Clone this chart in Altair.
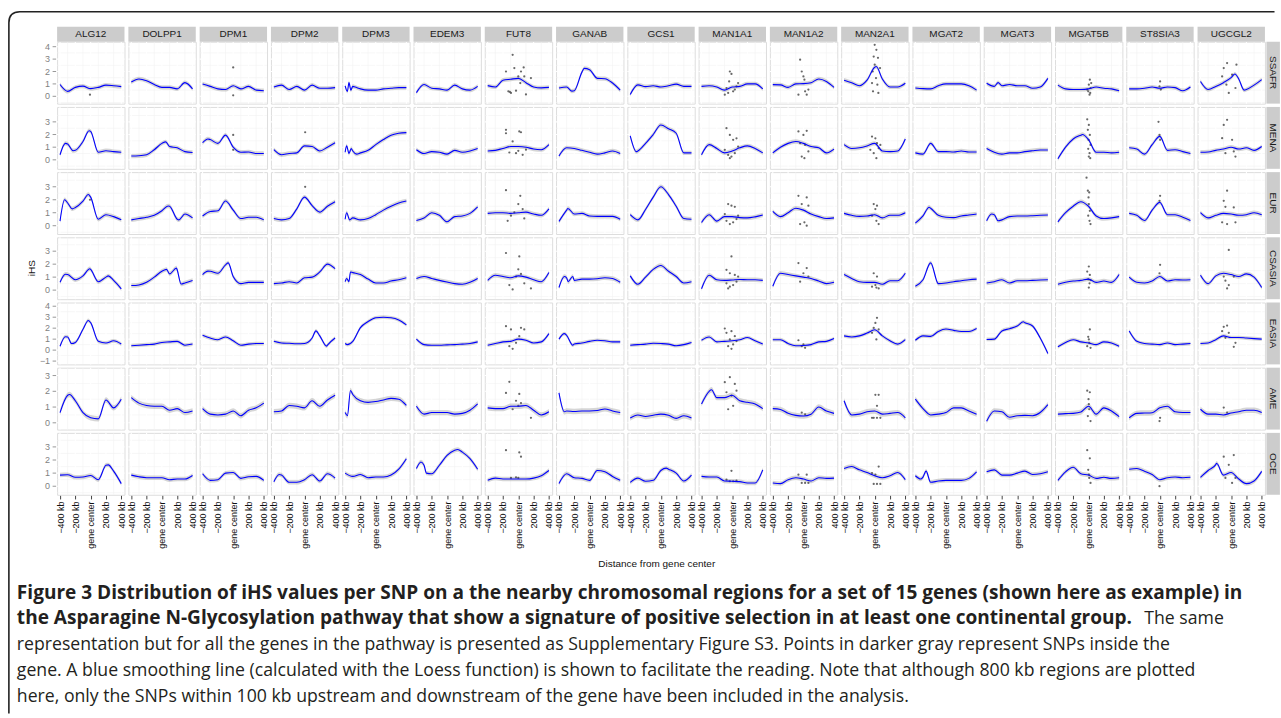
import altair as alt
import pandas as pd

GENES = ["ALG12", "DOLPP1", "DPM1", "DPM2", "DPM3", "EDEM3", "FUT8", "GANAB", "GCS1",
         "MAN1A1", "MAN1A2", "MAN2A1", "MGAT2", "MGAT3", "MGAT5B", "ST8SIA3", "UGCGL2"]
GROUPS = ["SSAFR", "MENA", "EUR", "CSASIA", "EASIA", "AME", "OCE"]
KB = [-400, -300, -200, -100, 0, 100, 200, 300, 400]

# Loess curves (iHS at each KB position)
SSAFR = {
    "ALG12": [0.95, 0.4, 0.72, 0.82, 0.62, 0.72, 0.9, 0.85, 0.78],
    "DOLPP1": [1.15, 1.4, 1.25, 0.95, 0.72, 0.72, 0.6, 1.1, 0.6],
    "DPM1": [1.0, 0.8, 0.6, 0.55, 0.85, 0.6, 0.8, 0.5, 0.45],
    "DPM2": [0.75, 0.9, 0.55, 0.8, 0.5, 0.9, 0.65, 0.65, 0.7],
    "DPM3": [0.85, 0.8, 0.6, 0.5, 0.5, 0.6, 0.65, 0.7, 0.7],
    "EDEM3": [0.3, 0.95, 0.65, 0.6, 0.5, 0.9, 0.6, 0.5, 0.8],
    "FUT8": [0.86, 0.75, 1.3, 1.38, 1.45, 1.1, 0.75, 0.68, 0.72],
    "GANAB": [0.67, 0.75, 0.45, 1.95, 2.15, 1.45, 1.42, 1.07, 0.5],
    "GCS1": [0.15, 0.92, 0.78, 0.85, 0.75, 0.85, 0.98, 0.8, 0.8],
    "MAN1A1": [0.8, 0.85, 0.75, 0.5, 0.75, 0.8, 1.0, 1.0, 0.6],
    "MAN1A2": [0.94, 0.92, 0.72, 1.0, 1.02, 1.1, 1.4, 1.2, 0.72],
    "MAN2A1": [1.3, 1.1, 0.85, 1.3, 2.35, 1.4, 0.75, 0.75, 1.05],
    "MGAT2": [0.67, 0.62, 0.6, 0.85, 1.0, 1.0, 1.0, 0.85, 0.5],
    "MGAT3": [1.05, 0.8, 0.85, 0.95, 0.85, 0.85, 0.65, 0.75, 1.45],
    "MGAT5B": [0.9, 0.6, 0.55, 0.55, 0.6, 0.75, 0.65, 0.6, 0.45],
    "ST8SIA3": [0.6, 0.6, 0.65, 0.75, 0.65, 0.75, 0.7, 0.45, 0.75],
    "UGCGL2": [1.2, 0.55, 0.8, 1.1, 1.5, 1.4, 0.55, 0.9, 1.35],
}
MENA = {
    "ALG12": [0.4, 1.25, 0.75, 1.45, 2.25, 0.6, 0.72, 0.65, 0.6],
    "DOLPP1": [0.3, 0.32, 0.4, 0.8, 1.3, 1.05, 0.95, 0.65, 0.58],
    "DPM1": [1.35, 1.6, 1.3, 1.95, 1.0, 0.6, 0.62, 0.5, 0.5],
    "DPM2": [0.8, 0.4, 0.5, 0.55, 1.1, 1.05, 0.7, 1.0, 1.35],
    "DPM3": [0.6, 0.7, 0.55, 0.75, 1.2, 1.6, 1.95, 2.1, 2.15],
    "EDEM3": [0.8, 0.5, 0.65, 0.6, 0.45, 0.75, 0.6, 0.7, 0.9],
    "FUT8": [0.7, 0.75, 0.9, 1.05, 1.05, 1.0, 0.85, 0.8, 1.2],
    "GANAB": [0.3, 0.95, 0.9, 0.75, 0.6, 0.45, 0.55, 0.7, 0.5],
    "GCS1": [1.9, 0.7, 1.3, 2.0, 2.75, 2.45, 2.1, 0.55, 0.55],
    "MAN1A1": [0.4, 1.2, 0.9, 0.55, 0.7, 0.95, 1.1, 0.9, 0.55],
    "MAN1A2": [0.55, 1.0, 1.3, 1.45, 1.3, 1.05, 0.95, 0.55, 0.85],
    "MAN2A1": [1.2, 0.9, 0.95, 1.1, 1.3, 0.7, 0.65, 0.7, 1.65],
    "MGAT2": [0.55, 0.45, 1.3, 0.65, 0.65, 0.62, 0.7, 0.62, 0.62],
    "MGAT3": [0.9, 0.6, 0.45, 0.55, 0.55, 0.65, 0.72, 0.78, 0.78],
    "MGAT5B": [0.08, 1.0, 1.65, 1.95, 1.6, 0.6, 0.6, 0.55, 0.6],
    "ST8SIA3": [0.95, 0.85, 0.45, 1.2, 1.85, 0.75, 0.8, 0.65, 0.5],
    "UGCGL2": [0.6, 0.62, 0.75, 0.85, 1.0, 0.85, 0.95, 0.75, 1.05],
}
EUR = {
    "ALG12": [0.35, 1.75, 1.4, 1.9, 2.2, 0.5, 0.85, 0.7, 0.45],
    "DOLPP1": [0.45, 0.55, 0.65, 0.8, 1.15, 1.5, 0.5, 0.9, 0.6],
    "DPM1": [0.75, 1.1, 1.15, 1.9, 1.2, 0.55, 0.65, 0.65, 0.45],
    "DPM2": [0.55, 0.45, 0.55, 1.3, 2.2, 1.55, 1.05, 1.5, 1.85],
    "DPM3": [0.5, 0.6, 0.45, 0.55, 0.85, 1.2, 1.5, 1.75, 1.9],
    "EDEM3": [0.4, 0.6, 1.0, 0.8, 0.3, 0.7, 0.75, 0.95, 1.45],
    "FUT8": [0.95, 1.0, 1.0, 0.95, 1.0, 1.05, 0.9, 0.8, 1.3],
    "GANAB": [0.33, 1.2, 0.9, 0.95, 0.75, 0.72, 0.72, 0.72, 0.5],
    "GCS1": [0.85, 0.45, 1.25, 2.2, 3.0, 2.4, 1.5, 0.55, 0.5],
    "MAN1A1": [0.25, 0.85, 0.35, 0.7, 0.7, 0.62, 0.6, 0.68, 0.82],
    "MAN1A2": [1.1, 0.7, 1.0, 1.35, 1.2, 0.9, 0.7, 0.55, 0.6],
    "MAN2A1": [0.95, 0.8, 0.72, 0.75, 0.85, 0.6, 0.8, 0.8, 1.0],
    "MGAT2": [0.2, 0.75, 1.35, 0.8, 0.65, 0.62, 0.75, 0.82, 0.9],
    "MGAT3": [0.38, 0.85, 0.45, 0.7, 0.75, 0.75, 0.77, 0.8, 0.82],
    "MGAT5B": [0.3, 1.0, 1.5, 1.85, 1.5, 0.75, 0.55, 0.6, 0.7],
    "ST8SIA3": [0.95, 0.8, 0.4, 1.2, 1.8, 0.85, 0.85, 0.65, 0.4],
    "UGCGL2": [1.0, 0.6, 0.8, 0.95, 0.9, 0.8, 0.85, 1.0, 0.85],
}
CSASIA = {
    "ALG12": [0.6, 1.2, 0.8, 1.1, 1.6, 0.65, 1.0, 0.75, 0.1],
    "DOLPP1": [0.35, 0.4, 0.6, 1.0, 1.45, 1.25, 1.55, 0.55, 0.75],
    "DPM1": [1.2, 1.45, 1.3, 1.95, 1.05, 0.5, 0.6, 0.6, 0.6],
    "DPM2": [0.5, 0.55, 0.65, 0.55, 0.95, 1.0, 1.4, 2.0, 1.65],
    "DPM3": [0.65, 1.35, 1.2, 0.85, 0.55, 0.55, 0.7, 0.8, 0.95],
    "EDEM3": [0.9, 1.05, 0.9, 0.75, 0.62, 0.5, 0.45, 0.6, 0.9],
    "FUT8": [0.75, 1.15, 1.05, 0.95, 1.1, 1.0, 0.8, 0.65, 1.35],
    "GANAB": [0.2, 0.95, 0.75, 0.85, 0.85, 0.88, 0.95, 0.9, 0.6],
    "GCS1": [1.1, 0.45, 1.0, 1.6, 1.9, 1.45, 1.05, 0.55, 0.65],
    "MAN1A1": [0.1, 1.15, 0.8, 0.75, 0.78, 0.82, 0.8, 0.8, 0.75],
    "MAN1A2": [0.3, 1.3, 1.2, 1.1, 1.0, 0.9, 0.7, 0.5, 0.6],
    "MAN2A1": [1.2, 0.9, 0.65, 0.6, 0.6, 0.45, 0.72, 0.72, 1.3],
    "MGAT2": [0.3, 0.8, 2.1, 0.5, 0.55, 0.65, 0.72, 0.8, 0.85],
    "MGAT3": [0.55, 0.65, 0.8, 0.55, 0.72, 0.72, 0.75, 0.78, 0.8],
    "MGAT5B": [0.45, 0.6, 0.7, 0.75, 0.85, 0.6, 0.7, 0.6, 1.2],
    "ST8SIA3": [1.0, 0.6, 0.55, 0.7, 1.05, 0.7, 0.8, 0.78, 0.8],
    "UGCGL2": [1.15, 0.5, 1.1, 1.3, 1.2, 1.05, 1.25, 1.0, 0.2],
}
EASIA = {
    "ALG12": [0.35, 1.2, 0.7, 1.9, 2.5, 0.8, 0.65, 0.85, 0.55],
    "DOLPP1": [0.4, 0.45, 0.5, 0.55, 0.7, 0.75, 0.8, 0.45, 0.55],
    "DPM1": [1.35, 1.1, 0.95, 1.2, 0.85, 0.45, 0.55, 0.6, 0.6],
    "DPM2": [0.8, 0.65, 0.62, 0.58, 0.6, 1.1, 1.3, 0.45, 1.1],
    "DPM3": [0.6, 0.8, 2.05, 2.6, 2.95, 3.0, 2.95, 2.75, 2.3],
    "EDEM3": [1.0, 0.5, 0.45, 0.45, 0.48, 0.5, 0.55, 0.6, 0.75],
    "FUT8": [0.45, 0.6, 0.75, 0.8, 1.0, 0.9, 0.65, 0.75, 1.5],
    "GANAB": [1.0, 1.35, 0.55, 0.65, 0.8, 0.9, 0.85, 0.75, 0.75],
    "GCS1": [0.45, 0.5, 0.55, 0.62, 0.6, 0.55, 0.4, 0.5, 0.7],
    "MAN1A1": [0.9, 1.2, 0.75, 0.8, 0.85, 0.95, 1.15, 0.85, 0.55],
    "MAN1A2": [0.95, 0.95, 0.6, 0.4, 0.42, 0.5, 0.75, 0.8, 1.05],
    "MAN2A1": [1.3, 1.2, 1.3, 1.55, 1.85, 1.3, 0.85, 0.55, 0.95],
    "MGAT2": [0.9, 1.3, 1.25, 1.7, 1.92, 1.8, 1.7, 1.7, 1.97],
    "MGAT3": [0.97, 1.0, 1.75, 1.95, 2.2, 2.5, 2.2, 1.1, -0.3],
    "MGAT5B": [0.3, 0.7, 0.95, 0.75, 0.65, 0.5, 0.75, 0.65, 0.36],
    "ST8SIA3": [1.75, 0.8, 0.6, 0.55, 0.5, 0.65, 0.5, 0.55, 0.6],
    "UGCGL2": [0.6, 0.65, 0.95, 1.3, 1.15, 1.15, 1.1, 1.05, 1.0],
}
AME = {
    "ALG12": [0.65, 1.75, 1.4, 0.65, 0.32, 0.25, 1.45, 0.95, 1.5],
    "DOLPP1": [1.6, 1.25, 1.1, 1.05, 1.05, 0.8, 0.9, 0.65, 0.75],
    "DPM1": [0.9, 0.55, 0.5, 0.55, 0.75, 0.45, 0.8, 0.95, 1.25],
    "DPM2": [0.7, 0.75, 1.1, 1.05, 0.95, 1.4, 1.05, 1.45, 1.75],
    "DPM3": [0.65, 1.8, 1.4, 1.3, 1.35, 1.45, 1.55, 1.5, 1.1],
    "EDEM3": [1.05, 0.55, 0.65, 0.65, 0.65, 0.55, 0.6, 0.8, 1.2],
    "FUT8": [0.95, 0.9, 0.9, 1.05, 1.05, 1.1, 0.8, 0.5, 0.7],
    "GANAB": [1.9, 0.75, 0.72, 0.75, 0.75, 0.78, 0.88, 0.75, 0.65],
    "GCS1": [0.3, 0.5, 0.4, 0.48, 0.55, 0.48, 0.28, 0.45, 0.3],
    "MAN1A1": [1.2, 2.0, 1.6, 1.6, 1.75, 1.4, 1.3, 1.2, 0.9],
    "MAN1A2": [0.9, 0.85, 0.6, 0.47, 0.43, 0.55, 1.0, 0.75, 0.6],
    "MAN2A1": [1.4, 0.5, 0.55, 0.7, 0.75, 0.55, 0.6, 0.65, 0.32],
    "MGAT2": [1.5, 0.9, 0.5, 0.55, 0.65, 0.95, 0.95, 0.75, 0.55],
    "MGAT3": [0.1, 0.75, 0.7, 0.35, 0.45, 0.47, 0.45, 0.65, 1.15],
    "MGAT5B": [0.55, 0.58, 0.6, 0.68, 1.05, 0.55, 0.95, 0.75, 0.39],
    "ST8SIA3": [0.32, 0.6, 0.62, 0.64, 0.95, 1.05, 0.7, 0.65, 0.65],
    "UGCGL2": [0.86, 0.55, 0.55, 0.5, 0.62, 0.7, 0.8, 0.8, 0.65],
}
OCE = {
    "ALG12": [0.85, 0.88, 0.68, 0.7, 0.82, 0.5, 1.6, 1.15, 0.2],
    "DOLPP1": [0.85, 0.72, 0.65, 0.65, 0.65, 0.5, 0.55, 0.55, 0.82],
    "DPM1": [0.95, 0.45, 0.5, 1.0, 1.05, 0.6, 0.72, 0.75, 0.45],
    "DPM2": [0.35, 0.85, 0.3, 0.3, 0.5, 0.88, 0.4, 0.95, 0.62],
    "DPM3": [1.0, 0.75, 0.9, 0.65, 0.7, 0.7, 0.85, 1.3, 2.1],
    "EDEM3": [1.35, 1.6, 0.95, 1.6, 2.35, 2.75, 2.6, 2.1, 1.3],
    "FUT8": [0.45, 0.62, 0.55, 0.55, 0.55, 0.55, 0.62, 0.8, 1.2],
    "GANAB": [0.2, 0.95, 0.65, 0.6, 0.45, 1.2, 1.1, 0.75, 0.45],
    "GCS1": [0.3, 0.62, 0.38, 0.45, 1.2, 1.3, 1.0, 0.4, 0.85],
    "MAN1A1": [0.75, 0.7, 0.7, 0.4, 0.38, 0.35, 0.25, 0.25, 1.25],
    "MAN1A2": [0.25, 0.2, 0.5, 0.65, 0.55, 0.4, 0.65, 0.6, 0.62],
    "MAN2A1": [1.35, 1.5, 1.25, 1.05, 0.8, 0.65, 0.8, 1.05, 0.5],
    "MGAT2": [0.8, 0.7, 0.3, 0.4, 0.45, 0.45, 0.45, 0.6, 1.1],
    "MGAT3": [1.1, 1.25, 0.85, 0.85, 1.0, 1.15, 0.9, 0.95, 1.1],
    "MGAT5B": [0.45, 1.1, 1.45, 0.95, 0.85, 0.6, 0.68, 0.6, 0.65],
    "ST8SIA3": [1.3, 1.35, 1.15, 0.9, 0.5, 0.65, 0.7, 0.65, 0.68],
    "UGCGL2": [0.68, 1.2, 1.65, 0.85, 1.05, 0.55, 0.2, 0.4, 1.13],
}
LINES = {"SSAFR": SSAFR, "MENA": MENA, "EUR": EUR, "CSASIA": CSASIA,
         "EASIA": EASIA, "AME": AME, "OCE": OCE}

# extra curve knots (kb, iHS) where a panel has sharper features
EXTRA = {
    ("SSAFR", "DPM3"): [(-370, 0.4), (-350, 1.1), (-325, 0.5), (-270, 0.75)],
    ("SSAFR", "GANAB"): [(-230, 0.42), (-70, 2.25)],
    ("SSAFR", "MGAT3"): [(-250, 1.1)],
    ("SSAFR", "UGCGL2"): [(50, 1.8), (170, 0.5)],
    ("SSAFR", "MAN2A1"): [(20, 2.4)],
    ("MENA", "DPM3"): [(-380, 1.1), (-350, 0.5), (-320, 0.9), (-250, 0.45)],
    ("MENA", "DPM1"): [(-330, 1.65)],
    ("MENA", "GCS1"): [(-320, 0.65)],
    ("MENA", "ALG12"): [(-330, 1.3), (-230, 0.72), (-20, 2.3)],
    ("MENA", "DOLPP1"): [(50, 1.42)],
    ("MENA", "MGAT5B"): [(-80, 2.0)],
    ("EUR", "ALG12"): [(-340, 2.0), (-240, 1.3), (-30, 2.4)],
    ("EUR", "DOLPP1"): [(80, 1.52), (220, 0.45)],
    ("EUR", "DPM3"): [(-380, 1.0), (-340, 0.45)],
    ("EUR", "GANAB"): [(-283, 1.33)],
    ("EUR", "MGAT2"): [(-220, 1.42)],
    ("EUR", "MGAT3"): [(-335, 0.9), (-250, 0.38)],
    ("CSASIA", "DPM3"): [(-380, 0.9), (-350, 0.65), (-330, 1.4)],
    ("CSASIA", "DOLPP1"): [(60, 1.6), (190, 1.7), (250, 0.47)],
    ("CSASIA", "GANAB"): [(-330, 1.05), (-280, 0.65), (-220, 1.05)],
    ("CSASIA", "DPM1"): [(-330, 1.46), (-65, 2.1)],
    ("CSASIA", "ALG12"): [(-330, 1.22), (-10, 1.65), (230, 1.1)],
    ("EASIA", "ALG12"): [(-330, 1.22), (-250, 0.6), (-30, 2.7)],
    ("EASIA", "DPM2"): [(150, 1.75), (290, 0.36)],
    ("EASIA", "DPM3"): [(-370, 0.5)],
    ("EASIA", "GANAB"): [(-330, 1.5), (-220, 0.45)],
    ("EASIA", "MGAT3"): [(80, 2.58)],
    ("AME", "ALG12"): [(-275, 1.8)],
    ("AME", "DPM3"): [(-370, 0.45), (-330, 2.05)],
    ("AME", "GANAB"): [(-330, 0.7)],
    ("AME", "MAN1A1"): [(-270, 2.1)],
    ("OCE", "EDEM3"): [(-340, 1.85), (-270, 1.0), (140, 2.8)],
    ("OCE", "MGAT2"): [(-330, 0.55), (-260, 1.15)],
    ("OCE", "UGCGL2"): [(-190, 1.75)],
    ("OCE", "DPM2"): [(-330, 0.9)],
    ("OCE", "ALG12"): [(230, 1.63)],
    ("OCE", "GCS1"): [(70, 1.38)],
}

# darker SNPs (inside the gene): (kb, iHS)
DARK = {
    ("SSAFR", "FUT8"): [(-161, 2.0), (-74, 3.35), (-52, 2.28), (-130, 0.4), (-96, 0.27), (-30, 0.45), (0, 1.6),
                        (35, 2.0), (70, 2.33), (78, 1.6), (100, 0.15), (165, 1.47), (26, 1.07), (-110, 0.35)],
    ("MENA", "FUT8"): [(-161, 2.37), (-161, 2.1), (13, 2.24), (35, 2.18), (-117, 0.58), (-30, 0.53), (0, 0.71),
                       (57, 0.4), (-74, 1.45), (100, 0.8)],
    ("EUR", "FUT8"): [(-161, 2.74), (26, 2.3), (0, 1.67), (57, 1.28), (-96, 0.77), (78, 0.56), (-52, 1.03), (-139, 0.38)],
    ("CSASIA", "FUT8"): [(-161, 2.86), (13, 2.6), (0, 1.6), (35, 1.25), (-117, 0.39), (-74, 0.05), (78, 0.52),
                         (165, 0.13), (-30, 1.04)],
    ("EASIA", "FUT8"): [(-161, 2.18), (-96, 1.88), (35, 2.03), (78, 1.88), (-117, 0.36), (-74, 0.12), (13, 1.27), (-30, 0.67)],
    ("AME", "FUT8"): [(-117, 2.6), (-161, 1.9), (13, 1.83), (-30, 1.4), (35, 1.25), (-74, 0.86), (165, 0.32), (0, 1.07)],
    ("OCE", "FUT8"): [(-161, 2.75), (13, 2.58), (35, 2.25), (0, 0.63), (-30, 0.68), (-96, 0.63)],
    ("SSAFR", "MAN1A1"): [(-30, 2.0), (-9, 1.8), (-74, 0.67), (-52, 0.27), (13, 0.4), (35, 0.54), (57, 0.8),
                          (-39, 1.2), (-96, 0.13), (78, 1.07)],
    ("MENA", "MAN1A1"): [(-74, 2.5), (-30, 1.97), (13, 1.58), (57, 1.7), (-52, 0.39), (-9, 0.26), (-96, 0.79),
                         (35, 0.53), (78, 1.05), (-30, 0.13)],
    ("EUR", "MAN1A1"): [(-52, 1.67), (-9, 1.54), (35, 1.46), (-74, 0.38), (-30, 0.13), (13, 0.26), (57, 0.51),
                        (-96, 0.9), (78, 0.77)],
    ("CSASIA", "MAN1A1"): [(-9, 2.6), (-74, 1.56), (-30, 1.3), (35, 1.17), (-74, 0.52), (-30, 0.26), (13, 0.39),
                           (57, 0.65), (78, 1.04), (-52, 0.13)],
    ("EASIA", "MAN1A1"): [(-96, 1.97), (-74, 1.58), (-9, 1.73), (35, 1.27), (-52, 0.36), (-9, 0.12), (13, 0.52),
                          (57, 0.82), (-30, 0.97)],
    ("AME", "MAN1A1"): [(-30, 2.9), (-96, 2.58), (35, 2.47), (-74, 1.94), (-9, 1.72), (13, 1.08), (-52, 0.86), (57, 2.04)],
    ("OCE", "MAN1A1"): [(-9, 1.18), (-74, 0.5), (-30, 0.38), (13, 0.38), (57, 0.43)],
    ("SSAFR", "MAN1A2"): [(-43, 2.95), (-22, 2.0), (0, 1.6), (22, 0.4), (-65, 0.13), (43, 0.13), (65, 0.54), (13, 1.34)],
    ("MENA", "MAN1A2"): [(-65, 2.24), (0, 1.97), (43, 2.29), (-43, 1.32), (22, 1.18), (-22, 0.26), (13, 0.13), (65, 0.66)],
    ("EUR", "MAN1A2"): [(-65, 2.3), (43, 2.18), (-22, 1.67), (65, 1.54), (-43, 0.13), (13, 0.26), (43, 0.0)],
    ("CSASIA", "MAN1A2"): [(-65, 2.08), (43, 1.7), (0, 1.3), (-43, 0.65), (65, 1.04)],
    ("EASIA", "MAN1A2"): [(-65, 0.9), (-22, 0.36), (22, 0.21), (0, 0.52)],
    ("AME", "MAN1A2"): [(-22, 0.65), (22, 0.54)],
    ("OCE", "MAN1A2"): [(-65, 0.88), (-22, 0.25), (22, 0.25), (65, 0.25), (43, 0.88)],
    ("SSAFR", "MAN2A1"): [(0, 4.15), (22, 3.75), (-13, 3.2), (43, 3.1), (-26, 2.0), (17, 1.47), (35, 0.94),
                          (-22, 0.4), (48, 0.27), (-35, 1.07), (70, 2.28), (0, 2.55)],
    ("MENA", "MAN2A1"): [(-35, 1.84), (9, 1.7), (30, 1.32), (52, 0.92), (-13, 0.53), (22, 0.13), (-57, 0.79), (74, 1.18)],
    ("EUR", "MAN2A1"): [(-13, 1.67), (30, 1.54), (9, 1.28), (-35, 0.77), (52, 0.13), (22, 0.38)],
    ("CSASIA", "MAN2A1"): [(-13, 1.3), (30, 1.04), (9, 0.39), (-35, 0.26), (52, 0.13), (22, 0.2)],
    ("EASIA", "MAN2A1"): [(30, 2.94), (9, 2.48), (-13, 2.03), (52, 1.88), (-35, 1.58), (22, 0.97)],
    ("AME", "MAN2A1"): [(9, 1.78), (52, 1.78), (30, 1.08), (-35, 0.32), (-13, 0.32), (30, 0.32), (74, 0.32)],
    ("OCE", "MAN2A1"): [(-35, 1.0), (9, 0.88), (52, 1.5), (-13, 0.18), (30, 0.18), (74, 0.18)],
    ("SSAFR", "MGAT5B"): [(17, 1.34), (4, 0.94), (26, 0.67), (-4, 0.4), (13, 0.13), (35, 1.07), (-17, 0.54), (22, 0.27)],
    ("MENA", "MGAT5B"): [(-17, 3.2), (4, 2.76), (-9, 2.37), (17, 1.97), (0, 1.58), (26, 1.18), (-4, 0.87),
                         (13, 0.53), (4, 0.26), (22, 0.13)],
    ("EUR", "MGAT5B"): [(-26, 3.7), (-9, 2.7), (9, 2.56), (0, 2.18), (4, 1.67), (17, 1.15), (-4, 0.77), (13, 0.38), (26, 0.13)],
    ("CSASIA", "MGAT5B"): [(4, 1.82), (-17, 1.43), (17, 1.17), (-4, 0.83), (13, 0.52), (4, 0.2), (26, 0.78)],
    ("EASIA", "MGAT5B"): [(17, 1.88), (-4, 1.21), (9, 0.67), (-17, 0.36), (26, 0.21), (4, 0.97)],
    ("AME", "MGAT5B"): [(-17, 2.04), (17, 1.94), (0, 1.5), (9, 0.86), (-9, 0.43), (26, 0.11), (4, 1.18)],
    ("OCE", "MGAT5B"): [(-17, 2.75), (17, 2.13), (-4, 1.25), (9, 0.63), (26, 0.25), (4, 0.88)],
    ("SSAFR", "UGCGL2"): [(-52, 2.68), (-96, 2.28), (13, 1.74), (-117, 1.6), (-61, 0.94), (-30, 0.27), (57, 0.67), (70, 2.55)],
    ("MENA", "UGCGL2"): [(-96, 2.76), (-52, 3.16), (-117, 1.71), (-74, 0.53), (35, 0.66), (57, 0.26), (13, 1.58)],
    ("EUR", "UGCGL2"): [(-52, 2.7), (-96, 1.92), (-74, 1.46), (-117, 0.26), (-52, 0.13), (57, 0.26), (35, 1.41)],
    ("CSASIA", "UGCGL2"): [(-30, 3.1), (-96, 1.04), (-74, 0.73), (-52, 0.13), (-30, 0.39), (35, 1.04)],
    ("EASIA", "UGCGL2"): [(-96, 2.12), (-52, 2.24), (-117, 1.73), (-74, 1.12), (57, 0.67), (35, 0.3), (-30, 1.58)],
    ("AME", "UGCGL2"): [(-96, 0.97), (-52, 0.65)],
    ("OCE", "UGCGL2"): [(-96, 2.25), (35, 2.38), (-30, 1.63), (-74, 0.63), (13, 0.25), (57, 0.63)],
    ("SSAFR", "ST8SIA3"): [(4, 1.2), (-4, 0.8), (13, 0.54)],
    ("MENA", "ST8SIA3"): [(-17, 3.0), (-4, 1.97), (4, 1.58)],
    ("EUR", "ST8SIA3"): [(4, 2.3), (-4, 1.92)],
    ("CSASIA", "ST8SIA3"): [(4, 1.95), (-4, 1.3)],
    ("AME", "ST8SIA3"): [(-4, 0.11), (4, 0.32)],
    ("OCE", "ST8SIA3"): [(-4, 0.0)],
    ("SSAFR", "DPM1"): [(0, 2.33), (0, 0.08)],
    ("MENA", "DPM1"): [(0, 1.97), (0, 0.79)],
    ("MENA", "DPM2"): [(9, 2.18)],
    ("EUR", "DPM2"): [(9, 3.0)],
    ("SSAFR", "ALG12"): [(-9, 0.13)],
    ("EUR", "ALG12"): [(-9, 2.0)],
}

# per-row y ranges and tick values
Y_LO = [-0.59, -0.71, -0.64, -0.70, -1.30, -0.43, -0.65]
Y_HI = [4.40, 4.18, 4.13, 4.07, 4.34, 3.50, 4.07]
Y_TICKS = [[0, 1, 2, 3, 4], [0, 1, 2, 3], [0, 1, 2, 3], [0, 1, 2, 3],
           [-1, 0, 1, 2, 3, 4], [0, 1, 2, 3], [0, 1, 2, 3]]
X_MAJOR = [-400, -200, 0, 200, 400]
X_MINOR = [-300, -100, 100, 300]

CAPTION_BOLD = ("Figure 3 Distribution of iHS values per SNP on a the nearby chromosomal regions for a set of 15 genes (shown here as example) in\n"
                "the Asparagine N-Glycosylation pathway that show a signature of positive selection in at least one continental group.")
CAPTION_TAIL = "The same"
CAPTION_BODY = ("representation but for all the genes in the pathway is presented as Supplementary Figure S3. Points in darker gray represent SNPs inside the\n"
                "gene. A blue smoothing line (calculated with the Loess function) is shown to facilitate the reading. Note that although 800 kb regions are plotted\n"
                "here, only the SNPs within 100 kb upstream and downstream of the gene have been included in the analysis.")

rec = []
for gi, grp in enumerate(GROUPS):
    lo, hi = Y_LO[gi], Y_HI[gi]
    majors = Y_TICKS[gi]
    minors = [t + 0.5 for t in [majors[0] - 1] + majors if lo < t + 0.5 < hi]
    for gene in GENES:
        b = {"group": grp, "gene": gene}
        knots = dict(zip(KB, LINES[grp][gene]))
        knots.update(dict(EXTRA.get((grp, gene), [])))
        for kb in sorted(knots):
            rec.append({**b, "kind": "line", "kb": kb, "v": knots[kb]})
        for kb, v in DARK.get((grp, gene), []):
            rec.append({**b, "kind": "dark", "kb": kb, "v": v})
        rec.append({**b, "kind": "ext", "v": lo})
        rec.append({**b, "kind": "ext", "v": hi})
        for t in majors:
            rec.append({**b, "kind": "ymaj", "v": t})
        for t in minors:
            rec.append({**b, "kind": "ymin", "v": t})
        for k in X_MAJOR:
            rec.append({**b, "kind": "xmaj", "kb": k})
        for k in X_MINOR:
            rec.append({**b, "kind": "xmin", "kb": k})
        if gene == GENES[0]:
            for t in majors:
                rec.append({**b, "kind": "ylab", "v": t,
                            "label": ("\u2212" + str(-t)) if t < 0 else str(t)})
        if gi == 0:
            rec.append({**b, "kind": "stript", "label": gene})
        if gene == GENES[-1]:
            rec.append({**b, "kind": "stripr", "label": grp})
        if gi == 0 and gene == GENES[0]:
            rec.append({**b, "kind": "frame"})
        if grp == "OCE" and gene == "ALG12":
            rec.append({**b, "kind": "cap"})
        if grp == "CSASIA" and gene == "ALG12":
            rec.append({**b, "kind": "ytitle"})
        if grp == "OCE" and gene == "GCS1":
            rec.append({**b, "kind": "xtitle"})

df = pd.DataFrame(rec)

W, H = 67.5, 62
XS = alt.Scale(domain=[-438, 442], nice=False, zero=False)
YS = alt.Scale(nice=False, zero=False)
XAX = alt.Axis(values=X_MAJOR, title=None, grid=False, domain=False,
               labelAngle=270, labelFontSize=9, labelColor="#111111",
               labelOverlap=False, labelFlush=False, labelPadding=2,
               tickColor="#444444", tickSize=4,
               labelExpr="datum.value == 0 ? 'gene center' : (datum.value < 0 ? '\u2212' + (-datum.value) + ' kb' : datum.value + ' kb')")


def only(kind):
    return alt.datum.kind == kind


X = alt.X("kb:Q", scale=XS, axis=XAX)
Y = alt.Y("v:Q", scale=YS, axis=None)
base = alt.Chart()

ymin = base.mark_rule(color="#F2F2F2", strokeWidth=0.6).encode(y=Y).transform_filter(only("ymin"))
ymaj = base.mark_rule(color="#FFFFFF", strokeWidth=1.1).encode(y=Y).transform_filter(only("ymaj"))
xmin = base.mark_rule(color="#F2F2F2", strokeWidth=0.6).encode(x=X).transform_filter(only("xmin"))
xmaj = base.mark_rule(color="#FFFFFF", strokeWidth=1.1).encode(x=X).transform_filter(only("xmaj"))
ext = base.mark_point(opacity=0).encode(y=Y).transform_filter(only("ext"))
band = base.mark_area(color="#999999", opacity=0.4, interpolate="monotone").encode(
    x=X, y=alt.Y("lo:Q", scale=YS, axis=None), y2="hi:Q"
).transform_filter(only("line")).transform_calculate(lo="datum.v - 0.17", hi="datum.v + 0.17")
dark = base.mark_circle(color="#4D4D4D", size=5, opacity=0.85).encode(
    x=X, y=Y).transform_filter(only("dark"))
line = base.mark_line(color="#0000FF", strokeWidth=1.1, interpolate="monotone").encode(
    x=X, y=Y).transform_filter(only("line"))

ytick = base.mark_rule(color="#7F7F7F", strokeWidth=0.8).encode(
    x=alt.value(-4.5), x2=alt.value(-1), y=Y).transform_filter(only("ylab"))
ylab = base.mark_text(align="right", baseline="middle", fontSize=9, color="#7F7F7F").encode(
    x=alt.value(-7), y=Y, text="label:N").transform_filter(only("ylab"))

strip_t = base.mark_rect(color="#CCCCCC").encode(
    x=alt.value(0), x2=alt.value(W), y=alt.value(-15), y2=alt.value(0)).transform_filter(only("stript"))
strip_t_txt = base.mark_text(fontSize=10, color="#1A1A1A", baseline="middle").encode(
    x=alt.value(W / 2), y=alt.value(-7.3), text="label:N").transform_filter(only("stript"))
strip_r = base.mark_rect(color="#CCCCCC").encode(
    x=alt.value(W + 1.5), x2=alt.value(W + 15), y=alt.value(0), y2=alt.value(H)).transform_filter(only("stripr"))
strip_r_txt = base.mark_text(fontSize=10, color="#1A1A1A", baseline="middle", angle=90).encode(
    x=alt.value(W + 8.3), y=alt.value(H / 2), text="label:N").transform_filter(only("stripr"))

FRAME = "M-48.3,673 L-48.3,-19 Q-48.3,-30 -37.3,-30 L1219.5,-30"
frame = base.mark_point(shape=FRAME, size=4, filled=False, color="#222222",
                        strokeWidth=1.6, opacity=1).encode(
    x=alt.value(0), y=alt.value(0)).transform_filter(only("frame"))

ytitle = base.mark_text(text="iHS", angle=270, fontSize=10, color="#111111", baseline="middle").encode(
    x=alt.value(-25), y=alt.value(H / 2)).transform_filter(only("ytitle"))
xtitle = base.mark_text(text="Distance from gene center", fontSize=10, color="#111111", baseline="middle").encode(
    x=alt.value(29.5), y=alt.value(131)).transform_filter(only("xtitle"))

CAP_FONT = "Open Sans"
cap_bold = base.mark_text(text=CAPTION_BOLD, lineBreak="\n", lineHeight=25.8, align="left",
                          baseline="alphabetic", font=CAP_FONT, fontSize=19.1, fontWeight="bold",
                          color="#231F20").encode(
    x=alt.value(-40.3), y=alt.value(166)).transform_filter(only("cap"))
cap_tail = base.mark_text(text=CAPTION_TAIL, align="right", baseline="alphabetic", font=CAP_FONT,
                          fontSize=17.7, color="#231F20").encode(
    x=alt.value(1168.7), y=alt.value(191.8)).transform_filter(only("cap"))
cap_body = base.mark_text(text=CAPTION_BODY, lineBreak="\n", lineHeight=25.8, align="left",
                          baseline="alphabetic", font=CAP_FONT, fontSize=17.7,
                          color="#231F20").encode(
    x=alt.value(-40.3), y=alt.value(217.6)).transform_filter(only("cap"))

layered = alt.layer(ymin, ymaj, xmin, xmaj, ext, band, dark, line, ytick, ylab,
                    strip_t, strip_t_txt, strip_r, strip_r_txt, frame,
                    ytitle, xtitle, cap_bold, cap_tail, cap_body, data=df).properties(width=W, height=H)

chart = layered.facet(
    row=alt.Row("group:N", sort=GROUPS, header=None),
    column=alt.Column("gene:N", sort=GENES, header=None),
    spacing={"row": 3.3, "column": 3.4},
    bounds="flush",
).resolve_scale(y="independent").properties(
    padding={"left": 5.2, "top": 7.2, "right": 0, "bottom": 0},
    background="white",
).configure_view(fill="#E5E5E5", stroke="transparent").configure(font="Liberation Sans")

chart.save("out.html", embed_options={"renderer": "svg", "actions": False})
